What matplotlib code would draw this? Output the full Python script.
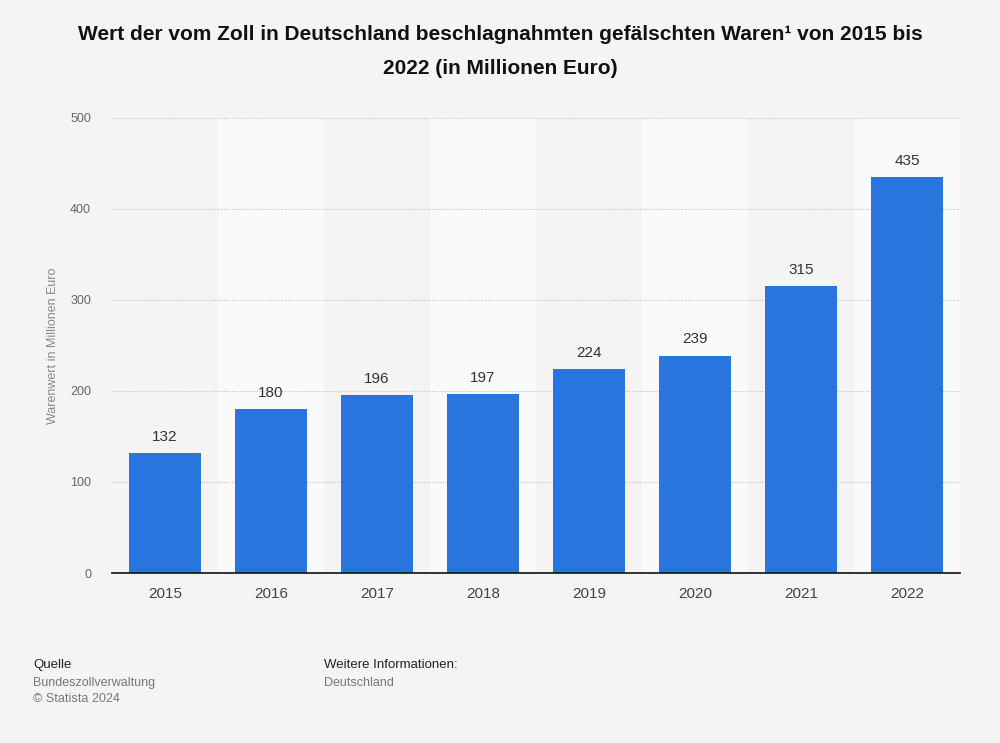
import matplotlib.pyplot as plt

plt.rcParams['font.family'] = ['Liberation Sans', 'DejaVu Sans']

# Daten
jahre = ['2015', '2016', '2017', '2018', '2019', '2020', '2021', '2022']
werte = [132, 180, 196, 197, 224, 239, 315, 435]

bg = '#f4f4f4'
blau = '#2876dd'

fig = plt.figure(figsize=(10, 7.43), dpi=100, facecolor=bg)
ax = fig.add_axes([0.112, 0.2288, 0.848, 0.6124])
ax.set_facecolor(bg)

x = list(range(len(jahre)))

# hellere Hintergrundstreifen jeder zweiten Kategorie
for i in x:
    if i % 2 == 1:
        ax.axvspan(i - 0.5, i + 0.5, color='#fafafa', zorder=0, lw=0)

ax.bar(x, werte, width=0.68, color=blau, zorder=3)
for i, v in zip(x, werte):
    ax.text(i, v + 10, str(v), ha='center', va='bottom', fontsize=11, color='#333333', zorder=4)

ax.set_xlim(-0.5, len(jahre) - 0.5)
ax.set_ylim(0, 500)
ax.set_yticks([0, 100, 200, 300, 400, 500])
ax.set_xticks(x)
ax.set_xticklabels(jahre)
ax.yaxis.grid(True, linestyle=(0, (1, 1.5)), color='#bbbbbb', lw=0.8, zorder=1)
ax.tick_params(axis='y', length=0, labelsize=9, labelcolor='#666666', pad=15)
ax.tick_params(axis='x', length=0, labelsize=11, labelcolor='#444444', pad=10)
for s in ['top', 'right', 'left']:
    ax.spines[s].set_visible(False)
ax.spines['bottom'].set_color('#111111')
ax.spines['bottom'].set_linewidth(1.2)
ax.spines['bottom'].set_zorder(5)

ax.set_ylabel('Warenwert in Millionen Euro', fontsize=9, color='#888888')
ax.yaxis.set_label_coords(-0.0625, 0.5)

fig.text(0.5, 0.953, 'Wert der vom Zoll in Deutschland beschlagnahmten gefälschten Waren¹ von 2015 bis',
         ha='center', va='center', fontsize=15, fontweight='bold', color='#111111')
fig.text(0.5, 0.908, '2022 (in Millionen Euro)',
         ha='center', va='center', fontsize=15, fontweight='bold', color='#111111')

fig.text(0.033, 0.105, 'Quelle', fontsize=9.5, color='#222222', va='center')
fig.text(0.033, 0.081, 'Bundeszollverwaltung', fontsize=9, color='#777777', va='center')
fig.text(0.033, 0.059, '© Statista 2024', fontsize=9, color='#777777', va='center')
fig.text(0.324, 0.105, 'Weitere Informationen:', fontsize=9.5, color='#222222', va='center')
fig.text(0.324, 0.081, 'Deutschland', fontsize=9, color='#777777', va='center')

fig.savefig('out.png', dpi=100, facecolor=bg)
